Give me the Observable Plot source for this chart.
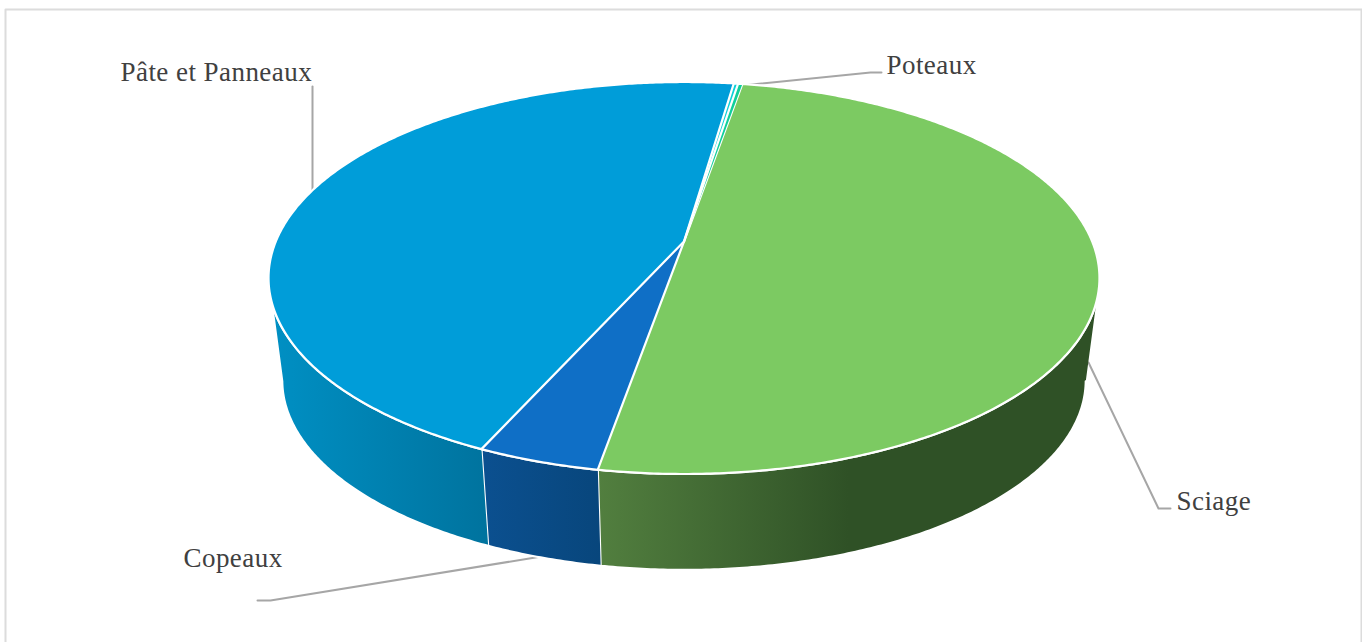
<!DOCTYPE html>
<html>
<head>
<meta charset="utf-8">
<style>html,body{margin:0;padding:0;background:#fff}svg{display:block}</style>
<script src="https://cdn.jsdelivr.net/npm/d3@7"></script>
<script src="https://cdn.jsdelivr.net/npm/@observablehq/plot@0.6"></script>
</head>
<body>
<div id="chart"></div>
<script>
// Data (shares in %, clockwise, starting from the Sciage slice)
const categories = ["Sciage", "Copeaux", "Pâte et Panneaux", "Poteaux A", "Poteaux B"];
const shares = [50.05, 4.0, 45.55, 0.2, 0.2];
const topColors = ["#7CCA62", "#0F6FC6", "#009DD9", "#0BD0D9", "#10CF9B"];
const labelNames = ["Sciage", "Copeaux", "Pâte et Panneaux", "Poteaux"];

// Camera used to project the disc
const W = 1362, H = 642;
const startAngle = 9.75;
const persp = 0.1862, radiusX = 408.2, radiusY = 189.2;
const topDisc = {cx: 683.5, cy: 241, scale: 1};
const baseDisc = {cx: 683.5, cy: 344.6, scale: 0.967};

function project(disc, deg) {
  const a = deg * Math.PI / 180, u = Math.sin(a), v = Math.cos(a), w = 1 + persp * v;
  return {x: disc.cx + disc.scale * radiusX * u / w, y: disc.cy - disc.scale * radiusY * v / w};
}
function arc(disc, a0, a1) {
  const n = Math.max(2, Math.ceil(Math.abs(a1 - a0) / 0.5)), pts = [];
  for (let i = 0; i <= n; i++) pts.push(project(disc, a0 + (a1 - a0) * i / n));
  return pts;
}

// Slice extents from values
const total = d3.sum(shares);
let acc = startAngle;
const slices = categories.map((name, i) => {
  const a0 = acc, a1 = acc + shares[i] / total * 360;
  acc = a1;
  return {name, a0, a1, i};
});

const topPts = slices.flatMap(s =>
  [{x: topDisc.cx, y: topDisc.cy}, ...arc(topDisc, s.a0, s.a1)].map(p => ({...p, name: s.name, color: topColors[s.i]})));

// Visible wall between the two silhouette tangents
const sideMin = 101, sideMax = 259;
const sidePts = slices.flatMap(s => {
  const a0 = Math.max(s.a0, sideMin), a1 = Math.min(s.a1, sideMax);
  if (a1 <= a0) return [];
  return [...arc(topDisc, a0, a1), ...arc(baseDisc, a1, a0)].map(p => ({...p, name: s.name, color: `url(#side${s.i})`}));
});

// Leader lines and label placement (layout only)
const leaders = [
  {name: "Poteaux", pts: [[741, 85], [870, 72], [881, 72]]},
  {name: "Pâte et Panneaux", pts: [[312, 190], [312, 86]]},
  {name: "Copeaux", pts: [[541, 556], [270, 600], [257, 600]]},
  {name: "Sciage", pts: [[1088, 362], [1158, 508], [1170, 508]]}
].flatMap(l => l.pts.map(([x, y]) => ({x, y, name: l.name})));
const labels = [
  {name: labelNames[0], x: 1176, y: 501},
  {name: labelNames[1], x: 183, y: 558},
  {name: labelNames[2], x: 120, y: 72},
  {name: labelNames[3], x: 886, y: 65}
];
const frameEdge = [{x: 5, y: H}, {x: 5, y: 9}, {x: 1361, y: 9}, {x: 1361, y: H}];

const chart = Plot.plot({
  width: W, height: H, margin: 0,
  style: {letterSpacing: "0.45px"},
  x: {domain: [0, W], range: [0, W], axis: null},
  y: {domain: [0, H], range: [0, H], axis: null},
  marks: [
    Plot.line(frameEdge, {x: "x", y: "y", stroke: "#dcdcdc", strokeWidth: 2}),
    Plot.line(leaders, {x: "x", y: "y", z: "name", stroke: "#a6a6a6", strokeWidth: 2, curve: "linear"}),
    Plot.line(sidePts, {x: "x", y: "y", z: "name", fill: "color", stroke: "#fff", strokeWidth: 2.2}),
    Plot.line(topPts, {x: "x", y: "y", z: "name", fill: "color", stroke: "#fff", strokeWidth: 2.2}),
    Plot.text(labels, {x: "x", y: "y", text: "name", textAnchor: "start", fill: "#404040",
      fontFamily: "Liberation Serif", fontSize: 27})
  ]
});

// Shaded wall gradients
const gradients = [
  {id: 0, stops: [[0, "#527F3F"], [0.5, "#2F5126"], [1, "#2F5126"]]},
  {id: 1, stops: [[0, "#0B5090"], [1, "#08467C"]]},
  {id: 2, stops: [[0, "#0090C4"], [1, "#00739E"]]},
  {id: 3, stops: [[0, "#0BA0A8"], [1, "#0BA0A8"]]},
  {id: 4, stops: [[0, "#0CA07A"], [1, "#0CA07A"]]}
];
const defs = d3.select(chart).insert("defs", ":first-child");
gradients.forEach(g => {
  const lg = defs.append("linearGradient").attr("id", `side${g.id}`).attr("x1", 0).attr("x2", 1).attr("y1", 0).attr("y2", 0);
  g.stops.forEach(([o, c]) => lg.append("stop").attr("offset", o).attr("stop-color", c));
});

document.getElementById("chart").append(chart);
</script>
</body>
</html>
